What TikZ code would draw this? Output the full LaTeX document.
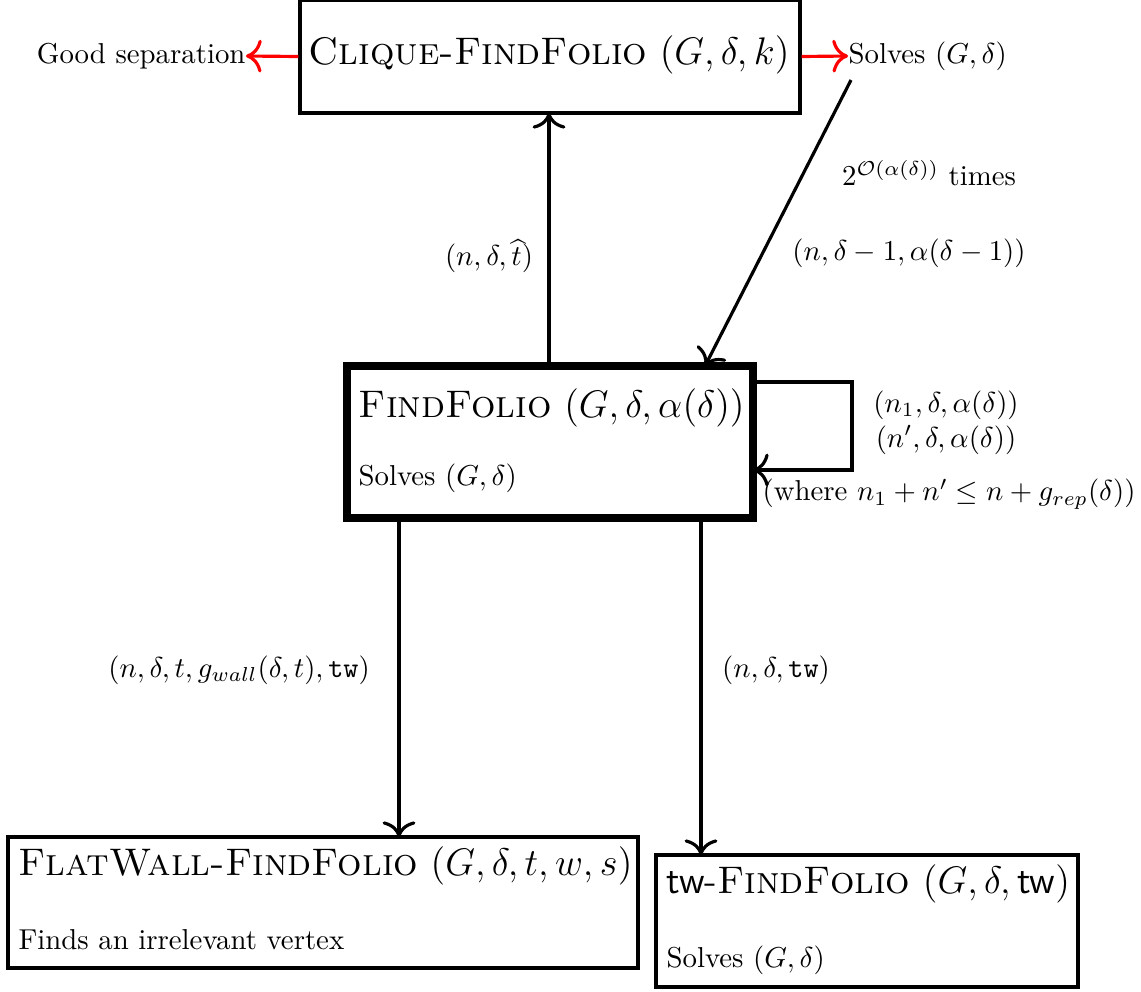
\RequirePackage{fix-cm}
\documentclass[tikz,border=0pt]{standalone}
\usetikzlibrary{arrows.meta}
\begin{document}
\begin{tikzpicture}[x=0.3472pt,y=-0.3472pt,
  box/.style={draw,line width=1.1pt,inner sep=0pt},
  mainbox/.style={draw,line width=2.6pt,inner sep=0pt},
  bigfont/.style={font=\fontsize{13.35}{16}\selectfont},
  ttl/.style={anchor=west,inner sep=0pt,bigfont},
  txt/.style={anchor=west,inner sep=0pt},
  lbl/.style={inner sep=0pt},
  arr/.style={-{To[scale=1.35]},line width=1.1pt},
  redarr/.style={-{To[scale=1.35]},line width=1.1pt,red}]
\useasboundingbox (0,0) rectangle (1141,991);
% boxes
\node[box,minimum width=500*0.3472pt,minimum height=113*0.3472pt] (clique) at (550,56.5) {};
\node[mainbox,minimum width=406*0.3472pt,minimum height=152*0.3472pt] (ff) at (550,442) {};
\node[box,minimum width=630*0.3472pt,minimum height=131*0.3472pt] (flat) at (323,902.5) {};
\node[box,minimum width=422*0.3472pt,minimum height=132*0.3472pt] (tw) at (867,921) {};
% box texts
\node[lbl,bigfont] (cliquet) at (549,55) {\textsc{Clique-FindFolio} $(G,\delta,k)$};
\node[ttl] (fft) at (358,408) {\textsc{FindFolio} $(G,\delta,\alpha(\delta))$};
\node[txt] (ffs) at (358,478) {Solves $(G,\delta)$};
\node[ttl] (flatt) at (18,866) {\textsc{FlatWall-FindFolio} $(G,\delta,t,w,s)$};
\node[txt] (flats) at (18,940) {Finds an irrelevant vertex};
\node[ttl] (twt) at (666,884) {\textsf{tw}-\textsc{FindFolio} $(G,\delta,\textsf{tw})$};
\node[txt] (tws) at (666,960) {Solves $(G,\delta)$};
% outside texts
\node[lbl,anchor=east] (good) at (246,56) {Good separation};
\node[lbl,anchor=west] (solves) at (848,56) {Solves $(G,\delta)$};
% coordinates
\coordinate (cb) at (549,113);
\coordinate (ftop1) at (549,366);
\coordinate (ftop2) at (705,366);
\coordinate (sbot) at (851,80);
\coordinate (l1) at (753,382);
\coordinate (l2) at (852,382);
\coordinate (l3) at (852,470);
\coordinate (l4) at (753,470);
\coordinate (d1a) at (399,518);
\coordinate (d1b) at (399,837);
\coordinate (d2a) at (701,518);
\coordinate (d2b) at (701,855);
% arrows
\draw[redarr] (clique.west) -- (good.east);
\draw[redarr] (clique.east) -- (solves.west);
\draw[arr] (ftop1) -- (cb);
\draw[arr] (sbot) -- (ftop2);
\draw[arr] (l1) -- (l2) -- (l3) -- (l4);
\draw[arr] (d1a) -- (d1b);
\draw[arr] (d2a) -- (d2b);
% labels
\node[lbl] (lb1) at (489,256) {$(n,\delta,\widehat{t})$};
\node[lbl] (lb2) at (929,173) {$2^{\mathcal{O}(\alpha(\delta))}$ times};
\node[lbl] (lb3) at (909,253) {$(n,\delta-1,\alpha(\delta-1))$};
\node[lbl] (lb4) at (946,405) {$(n_1,\delta,\alpha(\delta))$};
\node[lbl] (lb5) at (946,440) {$(n',\delta,\alpha(\delta))$};
\node[lbl,anchor=west] (lb6) at (762,494) {(where $n_1+n'\leq n+g_{rep}(\delta)$)};
\node[lbl] (lb7) at (239,670) {$(n,\delta,t,g_{wall}(\delta,t),\texttt{tw})$};
\node[lbl] (lb8) at (776,670) {$(n,\delta,\texttt{tw})$};
\end{tikzpicture}
\end{document}
